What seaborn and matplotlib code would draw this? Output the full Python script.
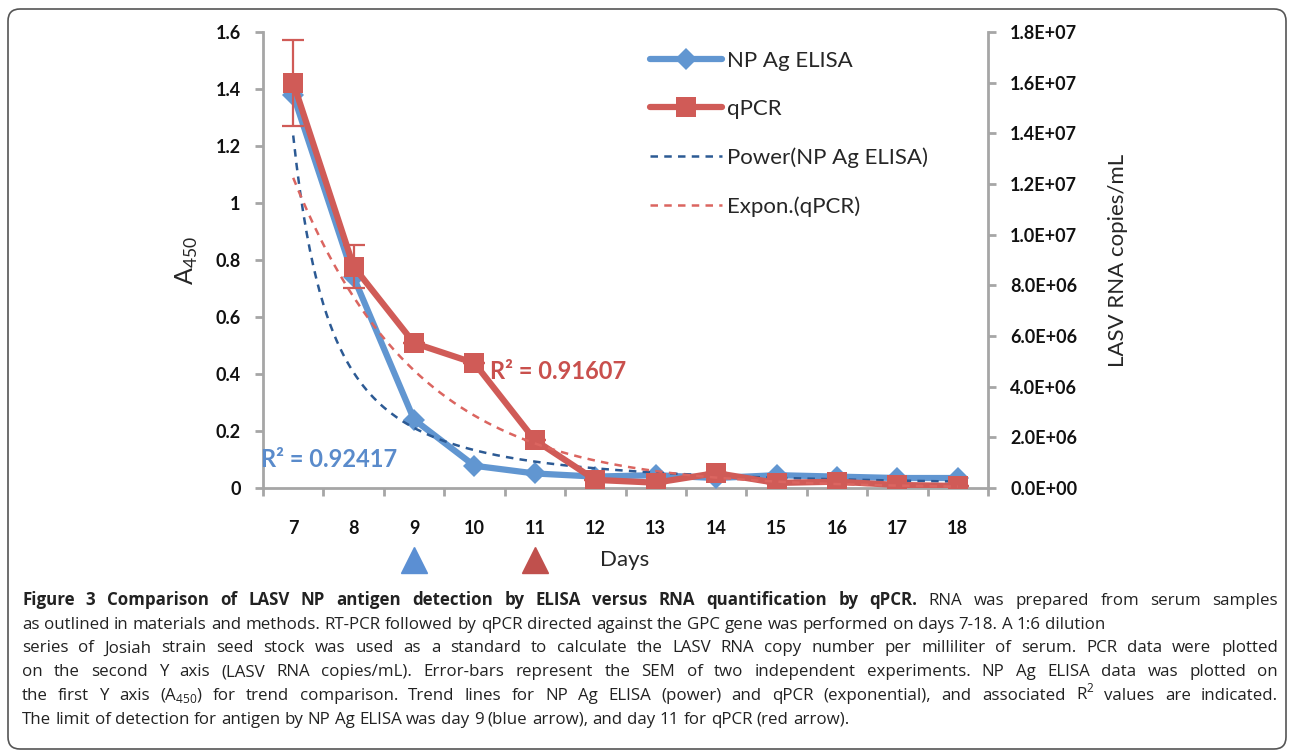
import numpy as np
import matplotlib
matplotlib.use("Agg")
import matplotlib.pyplot as plt
import seaborn as sns
from matplotlib import font_manager
from matplotlib.lines import Line2D
from matplotlib.patches import FancyBboxPatch

# values
days = [7, 8, 9, 10, 11, 12, 13, 14, 15, 16, 17, 18]
elisa_a450 = [1.38, 0.74, 0.24, 0.078, 0.051, 0.04, 0.045, 0.035, 0.045, 0.04, 0.035, 0.035]
qpcr_copies = [1.60e7, 8.74e6, 5.72e6, 4.93e6, 1.89e6, 3.2e5, 2.1e5, 5.9e5, 2.0e5, 2.5e5, 1.2e5, 8.0e4]
qpcr_sem = [1.7e6, 0.85e6, 0, 0, 0, 0, 0, 0, 0, 0, 0, 0]
left_ticks = [0, 0.2, 0.4, 0.6, 0.8, 1.0, 1.2, 1.4, 1.6]
left_tick_labels = ["0", "0.2", "0.4", "0.6", "0.8", "1", "1.2", "1.4", "1.6"]
right_ticks = [0, 2e6, 4e6, 6e6, 8e6, 1e7, 1.2e7, 1.4e7, 1.6e7, 1.8e7]
r2_elisa = "R² = 0.92417"
r2_qpcr = "R² = 0.91607"
lod_days = [9, 11]

caption_bold = "Figure 3 Comparison of LASV NP antigen detection by ELISA versus RNA quantification by qPCR."
caption_lines = [
    "RNA was prepared from serum samples",
    "as outlined in materials and methods. RT-PCR followed by qPCR directed against the GPC gene was performed on days 7-18. A 1:6 dilution",
    "series of Josiah strain seed stock was used as a standard to calculate the LASV RNA copy number per milliliter of serum. PCR data were plotted",
    "on the second Y axis (LASV RNA copies/mL). Error-bars represent the SEM of two independent experiments. NP Ag ELISA data was plotted on",
    "the first Y axis (A$_{450}$) for trend comparison. Trend lines for NP Ag ELISA (power) and qPCR (exponential), and associated R$^{2}$ values are indicated.",
    "The limit of detection for antigen by NP Ag ELISA was day 9 (blue arrow), and day 11 for qPCR (red arrow).",
]
caption_justified = [True, False, True, True, True, False]

BLUE = "#6196D1"
RED = "#D05B57"
BLUE_TREND = "#2C5A94"
RED_TREND = "#DB6560"
SPINE = "#A6A6A6"

sns.set_theme(style="white")
installed = {f.name for f in font_manager.fontManager.ttflist}
cap_font = "Liberation Sans Narrow" if "Liberation Sans Narrow" in installed else "Open Sans"
plt.rcParams["font.family"] = ["Lato", "DejaVu Sans"]
plt.rcParams["mathtext.fontset"] = "custom"
plt.rcParams["mathtext.rm"] = cap_font
plt.rcParams["mathtext.sf"] = "Lato"

fig = plt.figure(figsize=(12.9, 7.51), dpi=100)
ax1 = fig.add_axes([263 / 1290, 1 - 488 / 751, 725 / 1290, 456 / 751])
ax2 = ax1.twinx()

# trend lines, fitted the same way Excel does (on category index 1..n)
idx = np.arange(1, len(days) + 1)
b_pow, ln_a_pow = np.polyfit(np.log(idx), np.log(elisa_a450), 1)
b_exp, ln_a_exp = np.polyfit(idx, np.log(qpcr_copies), 1)
xs = np.linspace(1, len(days), 200)
x_days = xs + days[0] - 1

sns.lineplot(x=days, y=elisa_a450, ax=ax1, color=BLUE, linewidth=4.5,
             marker="D", markersize=11, markeredgewidth=0, zorder=3)
ax1.plot(x_days, np.exp(ln_a_pow) * xs ** b_pow, color=BLUE_TREND,
         linestyle=(0, (3, 2.5)), linewidth=1.8, zorder=4)

ax2.errorbar(days, qpcr_copies, yerr=qpcr_sem, fmt="none", ecolor=RED,
             elinewidth=1.6, capsize=8, capthick=1.6, zorder=2)
sns.lineplot(x=days, y=qpcr_copies, ax=ax2, color=RED, linewidth=4.5,
             marker="s", markersize=14, markeredgewidth=0, zorder=3)
ax2.plot(x_days, np.exp(ln_a_exp) * np.exp(b_exp * xs), color=RED_TREND,
         linestyle=(0, (3, 2.5)), linewidth=1.8, zorder=4)

ax1.set_xlim(6.5, 18.5)
ax1.set_ylim(0, 1.6)
ax2.set_ylim(0, 1.8e7)

ax1.set_yticks(left_ticks)
ax1.set_yticklabels(left_tick_labels)
ax2.set_yticks(right_ticks)
ax2.set_yticklabels([f"{v:.1E}" for v in right_ticks])
ax1.set_xticks(days)
ax1.set_xticklabels([str(d) for d in days])
ax1.set_xticks(np.arange(6.5, 19, 1), minor=True)

for ax in (ax1, ax2):
    for s in ax.spines.values():
        s.set_visible(False)
ax1.spines["left"].set_visible(True)
ax1.spines["bottom"].set_visible(True)
ax2.spines["right"].set_visible(True)
for s in (ax1.spines["left"], ax1.spines["bottom"], ax2.spines["right"]):
    s.set_color(SPINE)
    s.set_linewidth(2)

ax1.tick_params(axis="y", which="major", direction="out", length=6, width=2, color=SPINE,
                left=True, pad=10, labelsize=13, labelcolor="#111111")
ax2.tick_params(axis="y", which="major", direction="out", length=6, width=2, color=SPINE,
                right=True, pad=10, labelsize=13, labelcolor="#111111")
ax1.tick_params(axis="x", which="major", length=0, pad=23, labelsize=13, labelcolor="#111111")
ax1.tick_params(axis="x", which="minor", direction="out", length=6, width=2, color=SPINE, bottom=True)
for lab in ax1.get_xticklabels() + ax1.get_yticklabels() + ax2.get_yticklabels():
    lab.set_fontweight("bold")

ax1.set_ylabel(r"A$_{\mathsf{450}}$", fontsize=18, labelpad=11)
ax2.set_ylabel("LASV RNA copies/mL", fontsize=16, labelpad=22)
ax1.set_xlabel("")
ax2.set_xlabel("")
ax1.grid(False)
ax2.grid(False)

fig.text(625 / 1290, 1 - 560 / 751, "Days", fontsize=16, ha="center", va="center")
ax2.text(10.25, 4.6e6, r2_qpcr, color="#C9504D", fontsize=17, fontweight="bold", va="center")
ax1.text(6.47, 0.1, r2_elisa, color="#5A8BCB", fontsize=17, fontweight="bold", va="center")

# detection limit arrows below the axis
ax1.plot([lod_days[0]], [-0.157], marker="^", markersize=19, color="#5B8FD3",
         transform=ax1.get_xaxis_transform(), clip_on=False)
ax1.plot([lod_days[1]], [-0.157], marker="^", markersize=19, color="#C0504D",
         transform=ax1.get_xaxis_transform(), clip_on=False)

handles = [
    Line2D([], [], color=BLUE, linewidth=4.5, marker="D", markersize=11, markeredgewidth=0),
    Line2D([], [], color=RED, linewidth=4.5, marker="s", markersize=14, markeredgewidth=0),
    Line2D([], [], color=BLUE_TREND, linestyle=(0, (3, 2.5)), linewidth=1.8),
    Line2D([], [], color=RED_TREND, linestyle=(0, (3, 2.5)), linewidth=1.8),
]
labels = ["NP Ag ELISA", "qPCR", "Power(NP Ag ELISA)", "Expon.(qPCR)"]
fig.legend(handles, labels, loc="upper left", bbox_to_anchor=(650 / 1290, 1 - 51 / 751),
           frameon=False, fontsize=16, handlelength=3.24, handletextpad=0.22,
           labelspacing=1.27, borderaxespad=0, borderpad=0)

# caption, set word by word so the full lines can be justified
renderer = fig.canvas.get_renderer()
cap_size = 12.2
x_left, x_right = 22, 1278


def text_width(s, weight="normal"):
    t = fig.text(0, 0, s, fontsize=cap_size, family=cap_font, fontweight=weight)
    w = t.get_window_extent(renderer).width
    t.remove()
    return w


space_px = text_width("x x") - text_width("xx")


def place_words(words, y_px, justify):
    texts = [fig.text(0, 1 - y_px / 751, w, fontsize=cap_size, family=cap_font,
                      fontweight=wt, va="baseline", color="#222222") for w, wt in words]
    widths = [t.get_window_extent(renderer).width for t in texts]
    gap = (x_right - x_left - sum(widths)) / (len(texts) - 1) if justify else space_px
    x = x_left
    for t, w in zip(texts, widths):
        t.set_x(x / 1290)
        x += w + gap


for i, line in enumerate(caption_lines):
    words = [(w, "normal") for w in line.split(" ")]
    if i == 0:
        words = [(w, "bold") for w in caption_bold.split(" ")] + words
    place_words(words, 605 + 23.7 * i, caption_justified[i])

fig.patches.append(FancyBboxPatch((8, 2), 1278, 740, boxstyle="round,pad=0,rounding_size=12",
                                  transform=None, fill=False, edgecolor="#555555",
                                  linewidth=1.2, figure=fig))

fig.savefig("out.png", dpi=100)
